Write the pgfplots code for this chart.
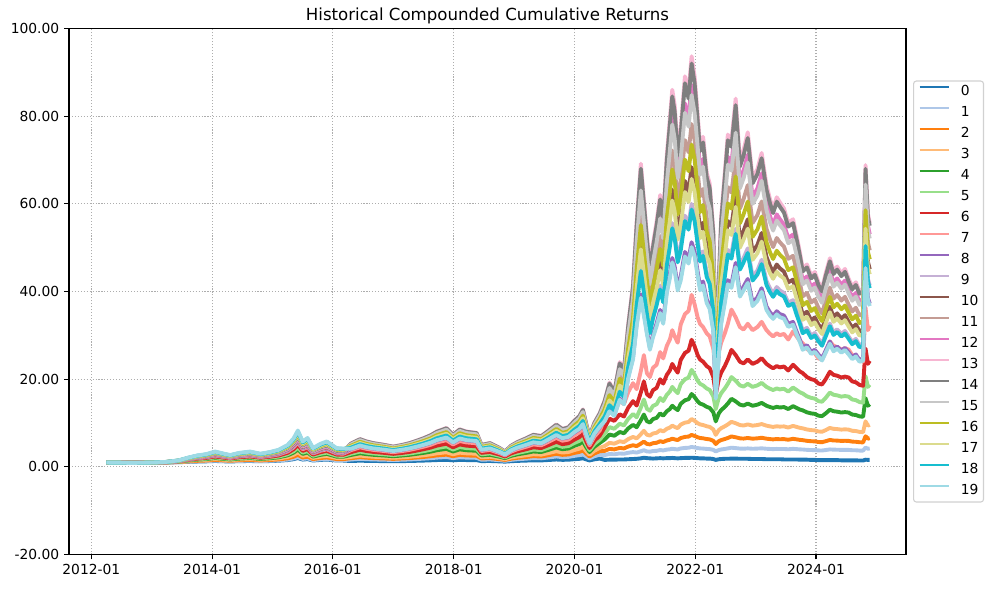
\documentclass[border=0pt]{standalone}
\usepackage{fontspec}
\setmainfont{DejaVu Sans}
\usepackage{pgfplots}
\usepackage{pgfplotstable}
\pgfplotsset{compat=1.18}
\definecolor{c0}{HTML}{1F77B4}
\definecolor{c1}{HTML}{AEC7E8}
\definecolor{c2}{HTML}{FF7F0E}
\definecolor{c3}{HTML}{FFBB78}
\definecolor{c4}{HTML}{2CA02C}
\definecolor{c5}{HTML}{98DF8A}
\definecolor{c6}{HTML}{D62728}
\definecolor{c7}{HTML}{FF9896}
\definecolor{c8}{HTML}{9467BD}
\definecolor{c9}{HTML}{C5B0D5}
\definecolor{c10}{HTML}{8C564B}
\definecolor{c11}{HTML}{C49C94}
\definecolor{c12}{HTML}{E377C2}
\definecolor{c13}{HTML}{F7B6D2}
\definecolor{c14}{HTML}{7F7F7F}
\definecolor{c15}{HTML}{C7C7C7}
\definecolor{c16}{HTML}{BCBD22}
\definecolor{c17}{HTML}{DBDB8D}
\definecolor{c18}{HTML}{17BECF}
\definecolor{c19}{HTML}{9EDAE5}
\pgfplotstableread{
t s0 s1 s2 s3 s4 s5 s6 s7 s8 s9 s10 s11 s12 s13 s14 s15 s16 s17 s18 s19
2012.25 1.00 1.00 1.00 1.00 1.00 1.00 1.00 1.00 1.00 1.00 1.00 1.00 1.00 1.00 1.00 1.00 1.00 1.00 1.00 1.00
2012.45 1.00 0.99 0.99 0.99 0.99 0.99 0.98 0.98 0.98 0.98 0.98 0.98 0.98 0.98 0.98 0.97 0.97 0.97 0.97 0.97
2012.65 0.99 0.99 0.98 0.97 0.97 0.96 0.96 0.95 0.95 0.94 0.94 0.94 0.94 0.94 0.94 0.93 0.93 0.93 0.92 0.92
2012.85 0.99 0.99 0.99 0.98 0.98 0.98 0.97 0.97 0.97 0.97 0.96 0.96 0.96 0.96 0.96 0.96 0.96 0.95 0.95 0.95
2013.05 1.00 1.00 1.00 1.01 1.01 1.01 1.01 1.01 1.01 1.01 1.01 1.01 1.02 1.02 1.02 1.02 1.02 1.02 1.02 1.02
2013.25 1.02 1.03 1.04 1.05 1.06 1.07 1.08 1.09 1.10 1.10 1.11 1.11 1.11 1.12 1.12 1.13 1.13 1.14 1.14 1.15
2013.45 1.07 1.09 1.12 1.16 1.21 1.24 1.28 1.32 1.34 1.35 1.36 1.37 1.38 1.40 1.41 1.43 1.44 1.46 1.48 1.50
2013.60 1.15 1.19 1.26 1.35 1.45 1.52 1.61 1.69 1.74 1.76 1.79 1.81 1.84 1.87 1.89 1.94 1.97 2.01 2.06 2.10
2013.75 1.22 1.27 1.38 1.51 1.66 1.75 1.88 2.01 2.07 2.10 2.15 2.18 2.22 2.26 2.30 2.36 2.41 2.47 2.54 2.60
2013.90 1.27 1.32 1.46 1.61 1.78 1.89 2.05 2.20 2.27 2.31 2.37 2.41 2.44 2.50 2.54 2.62 2.67 2.75 2.82 2.90
2014.05 1.35 1.43 1.60 1.80 2.03 2.18 2.38 2.58 2.68 2.73 2.80 2.85 2.90 2.98 3.03 3.13 3.20 3.30 3.40 3.50
2014.20 1.28 1.34 1.48 1.64 1.82 1.94 2.10 2.26 2.34 2.38 2.44 2.48 2.52 2.58 2.62 2.70 2.76 2.84 2.92 3.00
2014.30 1.24 1.29 1.41 1.54 1.70 1.80 1.94 2.07 2.14 2.17 2.22 2.26 2.29 2.34 2.38 2.45 2.50 2.56 2.63 2.70
2014.45 1.31 1.37 1.53 1.70 1.90 2.03 2.21 2.39 2.47 2.52 2.58 2.63 2.67 2.74 2.78 2.87 2.94 3.02 3.11 3.20
2014.63 1.35 1.43 1.60 1.80 2.03 2.18 2.38 2.58 2.68 2.73 2.80 2.85 2.90 2.98 3.03 3.13 3.20 3.30 3.40 3.50
2014.80 1.28 1.34 1.48 1.64 1.82 1.94 2.10 2.26 2.34 2.38 2.44 2.48 2.52 2.58 2.62 2.70 2.76 2.84 2.92 3.00
2014.96 1.34 1.41 1.58 1.77 1.98 2.13 2.32 2.51 2.61 2.66 2.73 2.78 2.82 2.90 2.94 3.04 3.11 3.21 3.30 3.40
2015.10 1.41 1.49 1.70 1.93 2.19 2.36 2.60 2.83 2.94 3.00 3.09 3.15 3.20 3.29 3.35 3.47 3.55 3.67 3.78 3.90
2015.25 1.56 1.68 1.96 2.28 2.64 2.88 3.20 3.52 3.68 3.76 3.88 3.96 4.04 4.16 4.24 4.40 4.52 4.68 4.84 5.00
2015.35 1.77 1.94 2.32 2.76 3.26 3.59 4.03 4.47 4.69 4.80 4.96 5.07 5.18 5.35 5.46 5.68 5.84 6.06 6.28 6.50
2015.42 2.02 2.24 2.75 3.34 3.99 4.43 5.02 5.60 5.89 6.04 6.26 6.40 6.55 6.77 6.91 7.21 7.42 7.72 8.01 8.30
2015.50 1.67 1.82 2.15 2.54 2.97 3.26 3.64 4.02 4.22 4.31 4.46 4.55 4.65 4.79 4.89 5.08 5.22 5.42 5.61 5.80
2015.58 1.78 1.95 2.34 2.79 3.30 3.63 4.08 4.53 4.75 4.86 5.03 5.14 5.26 5.42 5.54 5.76 5.93 6.15 6.38 6.60
2015.67 1.46 1.56 1.79 2.06 2.35 2.55 2.82 3.08 3.21 3.28 3.38 3.44 3.51 3.61 3.67 3.81 3.90 4.04 4.17 4.30
2015.80 1.60 1.73 2.03 2.38 2.76 3.02 3.37 3.71 3.88 3.97 4.10 4.18 4.27 4.40 4.48 4.66 4.78 4.96 5.13 5.30
2015.90 1.67 1.82 2.15 2.54 2.97 3.26 3.64 4.02 4.22 4.31 4.46 4.55 4.65 4.79 4.89 5.08 5.22 5.42 5.61 5.80
2016.06 1.46 1.56 1.79 2.06 2.35 2.55 2.82 3.08 3.21 3.28 3.38 3.44 3.51 3.61 3.67 3.81 3.90 4.04 4.17 4.30
2016.17 1.45 1.54 1.77 2.02 2.31 2.50 2.76 3.02 3.14 3.21 3.30 3.37 3.43 3.53 3.59 3.72 3.82 3.94 4.07 4.20
2016.30 1.34 1.69 1.99 2.29 2.72 3.02 3.37 3.82 4.10 4.44 4.70 4.96 5.19 5.34 5.30 5.13 4.83 4.61 4.40 4.14
2016.45 1.42 1.85 2.22 2.59 3.12 3.49 3.92 4.47 4.82 5.24 5.56 5.88 6.17 6.35 6.30 6.09 5.72 5.45 5.19 4.87
2016.55 1.38 1.77 2.10 2.44 2.92 3.26 3.64 4.14 4.46 4.84 5.13 5.42 5.68 5.85 5.80 5.61 5.27 5.03 4.79 4.50
2016.67 1.35 1.70 2.01 2.32 2.76 3.07 3.42 3.88 4.17 4.52 4.78 5.05 5.29 5.44 5.40 5.22 4.92 4.70 4.48 4.21
2016.85 1.32 1.64 1.92 2.20 2.60 2.88 3.20 3.62 3.88 4.20 4.44 4.68 4.90 5.04 5.00 4.84 4.56 4.36 4.16 3.92
2017.00 1.29 1.58 1.83 2.08 2.44 2.69 2.98 3.36 3.59 3.88 4.10 4.31 4.51 4.64 4.60 4.46 4.20 4.02 3.84 3.63
2017.15 1.32 1.64 1.92 2.20 2.60 2.88 3.20 3.62 3.88 4.20 4.44 4.68 4.90 5.04 5.00 4.84 4.56 4.36 4.16 3.92
2017.27 1.35 1.70 2.01 2.32 2.76 3.07 3.42 3.88 4.17 4.52 4.78 5.05 5.29 5.44 5.40 5.22 4.92 4.70 4.48 4.21
2017.40 1.40 1.80 2.15 2.50 3.00 3.35 3.75 4.28 4.60 5.00 5.30 5.60 5.88 6.05 6.00 5.80 5.45 5.20 4.95 4.65
2017.50 1.44 1.88 2.27 2.65 3.20 3.59 4.03 4.60 4.96 5.40 5.73 6.06 6.36 6.56 6.50 6.28 5.90 5.62 5.35 5.02
2017.62 1.50 1.99 2.43 2.86 3.48 3.91 4.41 5.06 5.46 5.96 6.33 6.70 7.05 7.26 7.20 6.95 6.52 6.21 5.90 5.53
2017.72 1.56 2.12 2.61 3.10 3.80 4.29 4.85 5.59 6.04 6.60 7.02 7.44 7.83 8.07 8.00 7.72 7.23 6.88 6.53 6.11
2017.88 1.62 2.25 2.79 3.34 4.12 4.67 5.29 6.11 6.62 7.24 7.71 8.18 8.61 8.88 8.80 8.49 7.94 7.55 7.16 6.69
2017.99 1.50 2.01 2.45 2.89 3.52 3.96 4.47 5.13 5.54 6.04 6.42 6.80 7.14 7.36 7.30 7.05 6.61 6.29 5.98 5.60
2018.10 1.60 2.20 2.73 3.25 4.00 4.53 5.13 5.91 6.40 7.00 7.45 7.90 8.31 8.58 8.50 8.20 7.68 7.30 6.93 6.48
2018.21 1.56 2.12 2.61 3.10 3.80 4.29 4.85 5.59 6.04 6.60 7.02 7.44 7.83 8.07 8.00 7.72 7.23 6.88 6.53 6.11
2018.38 1.54 2.07 2.54 3.01 3.68 4.15 4.69 5.39 5.82 6.36 6.76 7.16 7.53 7.77 7.70 7.43 6.96 6.63 6.29 5.89
2018.46 1.32 1.64 1.92 2.20 2.60 2.88 3.20 3.62 3.88 4.20 4.44 4.68 4.90 5.04 5.00 4.84 4.56 4.36 4.16 3.92
2018.60 1.35 1.70 2.01 2.32 2.76 3.07 3.42 3.88 4.17 4.52 4.78 5.05 5.29 5.44 5.40 5.22 4.92 4.70 4.48 4.21
2018.76 1.26 1.53 1.76 1.99 2.32 2.55 2.82 3.16 3.38 3.64 3.84 4.04 4.22 4.33 4.30 4.17 3.94 3.77 3.61 3.41
2018.85 1.20 1.40 1.58 1.75 2.00 2.18 2.38 2.64 2.80 3.00 3.15 3.30 3.44 3.53 3.50 3.40 3.23 3.10 2.98 2.83
2018.95 1.30 1.61 1.87 2.14 2.52 2.79 3.09 3.49 3.74 4.04 4.27 4.50 4.71 4.84 4.80 4.65 4.38 4.19 4.00 3.77
2019.05 1.37 1.74 2.06 2.38 2.84 3.16 3.53 4.01 4.31 4.68 4.96 5.23 5.49 5.65 5.60 5.42 5.09 4.86 4.63 4.36
2019.20 1.44 1.88 2.27 2.65 3.20 3.59 4.03 4.60 4.96 5.40 5.73 6.06 6.36 6.56 6.50 6.28 5.90 5.62 5.35 5.02
2019.32 1.50 2.01 2.45 2.89 3.52 3.96 4.47 5.13 5.54 6.04 6.42 6.80 7.14 7.36 7.30 7.05 6.61 6.29 5.98 5.60
2019.45 1.48 1.96 2.38 2.80 3.40 3.82 4.30 4.93 5.32 5.80 6.16 6.52 6.85 7.06 7.00 6.76 6.34 6.04 5.74 5.38
2019.55 1.56 2.12 2.61 3.10 3.80 4.29 4.85 5.59 6.04 6.60 7.02 7.44 7.83 8.07 8.00 7.72 7.23 6.88 6.53 6.11
2019.70 1.69 2.38 2.98 3.58 4.44 5.04 5.73 6.63 7.19 7.88 8.40 8.91 9.39 9.69 9.60 9.26 8.65 8.22 7.79 7.28
2019.80 1.61 2.22 2.75 3.28 4.04 4.57 5.18 5.98 6.47 7.08 7.54 7.99 8.41 8.68 8.60 8.30 7.76 7.38 7.00 6.55
2019.90 1.64 2.28 2.84 3.40 4.20 4.76 5.40 6.24 6.76 7.40 7.88 8.36 8.80 9.08 9.00 8.68 8.12 7.72 7.32 6.84
2020.00 1.76 2.52 3.19 3.85 4.80 5.47 6.23 7.22 7.84 8.60 9.17 9.74 10.26 10.60 10.50 10.12 9.46 8.98 8.51 7.94
2020.08 1.84 2.68 3.42 4.15 5.20 5.94 6.78 7.88 8.56 9.40 10.03 10.66 11.24 11.61 11.50 11.08 10.35 9.82 9.30 8.67
2020.14 1.96 2.92 3.76 4.60 5.80 6.64 7.60 8.86 9.64 10.60 11.32 12.04 12.70 13.12 13.00 12.52 11.68 11.08 10.48 9.76
2020.20 1.68 2.36 2.96 3.55 4.40 5.00 5.68 6.57 7.12 7.80 8.31 8.82 9.29 9.59 9.50 9.16 8.57 8.14 7.72 7.21
2020.25 1.48 1.96 2.38 2.80 3.40 3.82 4.30 4.93 5.32 5.80 6.16 6.52 6.85 7.06 7.00 6.76 6.34 6.04 5.74 5.38
2020.33 1.72 2.44 3.07 3.70 4.60 5.23 5.95 6.90 7.48 8.20 8.74 9.28 9.78 10.09 10.00 9.64 9.01 8.56 8.11 7.57
2020.42 1.90 2.79 3.58 4.36 5.48 6.26 7.16 8.34 9.06 9.96 10.63 11.30 11.92 12.31 12.20 11.75 10.97 10.41 9.85 9.18
2020.50 1.60 2.69 3.66 4.76 6.26 7.55 9.00 10.97 10.56 11.61 12.56 13.61 14.52 15.15 15.00 14.30 13.11 12.26 11.46 10.43
2020.58 1.65 2.94 4.11 5.48 7.39 9.08 11.00 13.66 12.86 14.29 15.58 17.06 18.34 19.23 19.00 17.99 16.36 15.18 14.08 12.67
2020.66 1.65 2.88 4.00 5.30 7.11 8.70 10.50 12.99 11.82 13.02 14.13 15.37 16.44 17.19 17.00 16.17 14.77 13.79 12.85 11.65
2020.75 1.70 3.06 4.33 5.84 7.96 9.84 12.00 15.00 15.58 17.42 19.12 21.03 22.70 23.91 23.60 22.28 20.11 18.57 17.13 15.32
2020.82 1.70 3.00 4.22 5.66 7.68 9.46 11.50 14.33 14.52 16.24 17.82 19.60 21.16 22.29 22.00 20.77 18.74 17.31 15.97 14.28
2020.89 1.75 3.22 4.64 6.34 8.78 10.96 13.50 17.05 20.58 23.17 25.57 28.32 30.72 32.45 32.00 30.11 27.01 24.80 22.78 20.22
2020.97 1.80 3.38 4.94 6.84 9.59 12.07 15.00 19.10 25.01 28.58 31.90 35.75 39.16 41.62 41.00 38.29 33.91 30.83 28.04 24.56
2021.03 1.85 3.27 4.74 6.51 9.05 11.33 14.00 17.73 32.73 37.62 42.24 47.63 52.42 55.88 55.00 51.21 45.05 40.76 36.85 32.07
2021.10 1.95 3.57 5.31 7.47 10.64 13.54 17.00 21.90 39.37 45.63 51.54 58.48 64.67 69.16 68.00 63.04 55.15 49.64 44.68 38.56
2021.15 2.10 3.81 5.77 8.24 11.94 15.38 19.50 25.50 35.22 40.68 45.78 51.78 57.12 60.99 60.00 55.74 48.90 44.13 39.81 34.50
2021.20 2.00 3.53 5.24 7.34 10.43 13.25 16.60 21.34 30.94 35.57 39.94 45.03 49.56 52.83 52.00 48.41 42.59 38.53 34.84 30.32
2021.25 1.95 3.48 5.13 7.15 10.12 12.81 16.00 20.50 27.21 31.09 34.70 38.89 42.59 45.27 44.60 41.66 36.88 33.54 30.51 26.72
2021.30 1.90 3.62 5.41 7.62 10.91 13.91 17.50 22.60 30.13 34.53 38.65 43.45 47.70 50.78 50.00 46.63 41.15 37.33 33.85 29.55
2021.36 1.95 3.67 5.50 7.78 11.17 14.28 18.00 23.30 32.73 37.62 42.24 47.63 52.42 55.88 55.00 51.21 45.05 40.76 36.85 32.07
2021.42 2.00 3.85 5.86 8.39 12.20 15.74 20.00 26.20 35.81 41.36 46.54 52.64 58.07 62.01 61.00 56.67 49.72 44.87 40.47 35.08
2021.47 1.95 3.76 5.68 8.09 11.69 15.01 19.00 24.75 33.32 38.30 43.01 48.50 53.37 56.90 56.00 52.14 45.86 41.50 37.52 32.65
2021.53 2.00 3.94 6.03 8.69 12.70 16.46 21.00 27.63 40.53 46.97 53.06 60.20 66.57 71.19 70.00 64.89 56.77 51.10 45.99 39.69
2021.58 2.00 4.02 6.20 8.98 13.20 17.18 22.00 29.05 43.99 51.32 58.34 66.61 73.94 79.40 78.00 72.07 62.63 56.08 50.23 43.06
2021.62 2.05 4.14 6.44 9.41 13.95 18.25 23.50 31.19 47.66 55.60 63.21 72.16 80.11 86.02 84.50 78.08 67.85 60.76 54.42 46.64
2021.66 2.00 4.06 6.28 9.12 13.45 17.54 22.50 29.76 45.68 53.30 60.59 69.17 76.79 82.46 81.00 74.84 65.04 58.24 52.16 44.71
2021.71 1.95 3.98 6.12 8.83 12.95 16.82 21.50 28.34 41.11 47.64 53.82 61.06 67.52 72.21 71.00 65.82 57.58 51.83 46.65 40.26
2021.76 2.00 4.21 6.58 9.66 14.40 18.88 24.40 32.49 43.43 50.50 57.23 65.13 72.16 77.33 76.00 70.34 61.33 55.06 49.44 42.52
2021.83 2.05 4.33 6.84 10.10 15.20 20.00 26.00 34.85 49.04 57.31 65.23 74.55 82.91 89.08 87.50 80.76 70.09 62.69 56.09 47.99
2021.89 2.05 4.37 6.92 10.24 15.44 20.35 26.50 35.59 47.38 55.27 62.83 71.74 79.63 85.51 84.00 77.62 67.45 60.40 54.10 46.37
2021.94 2.10 4.55 7.29 10.92 16.63 22.13 29.00 39.25 51.24 59.98 68.36 78.20 87.12 93.66 92.00 84.82 73.51 65.69 58.70 50.14
2021.99 2.05 4.44 7.07 10.51 15.91 21.05 27.50 37.06 49.04 57.31 65.23 74.55 82.91 89.08 87.50 80.76 70.09 62.69 56.09 47.99
2022.04 2.00 4.29 6.76 9.96 14.95 19.65 25.50 34.11 44.56 51.98 59.09 67.47 74.89 80.42 79.00 73.00 63.44 56.80 50.88 43.61
2022.08 1.95 4.22 6.60 9.69 14.45 18.95 24.50 32.64 41.15 47.84 54.22 61.70 68.36 73.26 72.00 66.64 58.10 52.16 46.84 40.28
2022.13 1.95 4.18 6.52 9.55 14.20 18.60 24.00 31.90 42.29 49.17 55.72 63.42 70.26 75.30 74.00 68.49 59.72 53.61 48.14 41.40
2022.19 1.90 4.10 6.36 9.27 13.70 17.89 23.00 30.48 38.21 44.29 50.03 56.76 62.77 67.12 66.00 61.18 53.53 48.18 43.36 37.42
2022.24 1.90 4.06 6.28 9.12 13.45 17.54 22.50 29.76 36.77 42.61 48.13 54.61 60.39 64.58 63.50 58.86 51.50 46.36 41.72 36.00
2022.30 1.80 3.89 5.95 8.54 12.45 16.10 20.50 26.91 31.54 36.25 40.70 45.90 50.51 53.85 53.00 49.34 43.41 39.27 35.51 30.90
2022.34 1.60 3.53 5.22 7.31 10.38 13.18 16.50 21.20 15.84 17.71 19.44 21.38 23.09 24.31 24.00 22.66 20.45 18.89 17.42 15.58
2022.39 1.75 3.85 5.86 8.39 12.20 15.74 20.00 26.20 25.62 29.27 32.68 36.62 40.11 42.63 42.00 39.23 34.73 31.58 28.73 25.16
2022.43 1.80 3.98 6.12 8.83 12.95 16.82 21.50 28.34 33.32 38.30 43.01 48.50 53.37 56.90 56.00 52.14 45.86 41.50 37.52 32.65
2022.49 1.85 4.10 6.36 9.27 13.70 17.89 23.00 30.48 38.21 44.29 50.03 56.76 62.77 67.12 66.00 61.18 53.53 48.18 43.36 37.42
2022.54 1.85 4.22 6.60 9.69 14.45 18.95 24.50 32.64 42.58 49.50 56.10 63.85 70.74 75.80 74.50 68.95 60.12 53.98 48.46 41.68
2022.60 1.90 4.38 6.95 10.29 15.53 20.49 26.70 35.88 41.72 48.51 54.97 62.56 69.31 74.28 73.00 67.56 58.91 52.89 47.49 40.84
2022.67 1.90 4.29 6.76 9.96 14.95 19.65 25.50 34.11 46.53 54.29 61.71 70.46 78.21 83.99 82.50 76.23 66.25 59.32 53.13 45.54
2022.74 1.85 4.18 6.52 9.55 14.20 18.60 24.00 31.90 39.66 45.96 51.92 58.91 65.14 69.66 68.50 63.50 55.55 50.00 45.00 38.84
2022.80 1.85 4.15 6.46 9.44 14.00 18.32 23.60 31.33 41.11 47.64 53.82 61.06 67.52 72.21 71.00 65.82 57.58 51.83 46.65 40.26
2022.87 1.85 4.22 6.60 9.69 14.45 18.95 24.50 32.64 42.86 49.84 56.48 64.28 71.21 76.31 75.00 69.41 60.53 54.34 48.79 41.96
2022.95 1.80 4.14 6.44 9.41 13.95 18.25 23.50 31.19 37.46 43.41 49.04 55.64 61.53 65.80 64.70 59.98 52.47 47.23 42.51 36.68
2023.03 1.80 4.18 6.52 9.55 14.20 18.60 24.00 31.90 38.68 44.82 50.63 57.45 63.53 67.94 66.80 61.92 54.17 48.76 43.89 37.88
2023.10 1.80 4.24 6.65 9.77 14.60 19.16 24.80 33.08 40.76 47.24 53.36 60.54 66.95 71.60 70.40 65.26 57.09 51.39 46.25 39.92
2023.18 1.75 4.14 6.44 9.41 13.95 18.25 23.50 31.19 36.59 42.41 47.91 54.35 60.10 64.27 63.20 58.59 51.26 46.14 41.52 35.83
2023.24 1.75 4.09 6.34 9.24 13.65 17.82 22.90 30.33 35.22 40.68 45.78 51.78 57.12 60.99 60.00 55.74 48.90 44.13 39.81 34.50
2023.29 1.75 4.06 6.28 9.12 13.45 17.54 22.50 29.76 34.45 39.60 44.47 50.14 55.18 58.83 57.90 53.90 47.42 42.90 38.79 33.76
2023.35 1.75 4.10 6.36 9.27 13.70 17.89 23.00 30.48 35.51 41.02 46.16 52.21 57.60 61.50 60.50 56.20 49.31 44.50 40.14 34.79
2023.40 1.75 4.08 6.31 9.19 13.55 17.68 22.70 30.05 34.87 40.27 45.32 51.26 56.55 60.38 59.40 55.18 48.41 43.69 39.41 34.16
2023.47 1.70 4.09 6.34 9.24 13.65 17.82 22.90 30.33 34.51 39.67 44.54 50.23 55.27 58.93 58.00 54.00 47.50 42.98 38.86 33.81
2023.54 1.70 4.02 6.20 8.98 13.20 17.18 22.00 29.05 32.61 37.48 42.09 47.46 52.22 55.68 54.80 51.02 44.88 40.61 36.72 31.95
2023.62 1.70 4.12 6.41 9.35 13.85 18.10 23.30 30.90 33.08 38.03 42.70 48.15 52.99 56.49 55.60 51.76 45.54 41.20 37.25 32.41
2023.68 1.70 4.06 6.28 9.12 13.45 17.54 22.50 29.76 30.82 35.43 39.78 44.86 49.37 52.63 51.80 48.23 42.42 38.38 34.71 30.20
2023.73 1.65 4.00 6.17 8.92 13.10 17.04 21.80 28.77 29.16 33.42 37.41 42.06 46.17 49.15 48.40 45.13 39.83 36.13 32.77 28.60
2023.78 1.65 3.97 6.10 8.80 12.90 16.75 21.40 28.20 27.21 31.09 34.70 38.89 42.59 45.27 44.60 41.66 36.88 33.54 30.51 26.72
2023.85 1.65 3.89 5.95 8.54 12.45 16.10 20.50 26.91 27.76 31.71 35.40 39.68 43.45 46.18 45.50 42.50 37.63 34.22 31.12 27.25
2023.92 1.60 3.85 5.86 8.39 12.20 15.74 20.00 26.20 26.23 29.97 33.45 37.50 41.07 43.65 43.00 40.16 35.56 32.34 29.41 25.76
2023.98 1.60 3.83 5.82 8.33 12.10 15.59 19.80 25.91 26.72 30.53 34.08 38.19 41.83 44.46 43.80 40.91 36.22 32.94 29.96 26.24
2024.04 1.55 3.76 5.68 8.09 11.69 15.01 19.00 24.75 25.65 29.20 32.49 36.31 39.69 42.12 41.50 38.82 34.49 31.44 28.68 25.19
2024.10 1.55 3.74 5.64 8.02 11.58 14.86 18.80 24.46 24.72 28.14 31.32 35.00 38.26 40.60 40.00 37.42 33.24 30.30 27.64 24.28
2024.16 1.55 3.85 5.86 8.39 12.20 15.74 20.00 26.20 26.54 30.32 33.84 37.93 41.54 44.15 43.50 40.63 35.97 32.71 29.75 26.06
2024.23 1.55 3.99 6.15 8.89 13.05 16.96 21.70 28.62 28.61 32.69 36.49 40.90 44.79 47.60 46.90 43.80 38.79 35.27 32.08 28.09
2024.29 1.55 3.94 6.03 8.69 12.70 16.46 21.00 27.63 26.84 30.67 34.23 38.37 42.02 44.66 44.00 41.10 36.39 33.09 30.10 26.36
2024.35 1.55 3.92 6.00 8.63 12.60 16.32 20.80 27.34 27.45 31.37 35.01 39.24 42.98 45.68 45.00 42.03 37.22 33.84 30.78 26.96
2024.42 1.50 3.88 5.93 8.51 12.40 16.03 20.40 26.77 26.54 30.32 33.84 37.93 41.54 44.15 43.50 40.63 35.97 32.71 29.75 26.06
2024.48 1.50 3.90 5.96 8.57 12.50 16.17 20.60 27.06 27.15 31.02 34.62 38.80 42.50 45.17 44.50 41.56 36.80 33.46 30.44 26.66
2024.54 1.50 3.88 5.93 8.51 12.40 16.03 20.40 26.77 26.14 29.76 33.12 37.01 40.46 42.93 42.30 39.57 35.15 32.04 29.23 25.68
2024.60 1.50 3.81 5.77 8.24 11.94 15.38 19.50 25.50 25.03 28.49 31.71 35.44 38.74 41.11 40.50 37.89 33.66 30.68 27.99 24.58
2024.66 1.50 3.79 5.73 8.18 11.84 15.23 19.30 25.19 25.65 29.20 32.49 36.31 39.69 42.12 41.50 38.82 34.49 31.44 28.68 25.19
2024.72 1.45 3.73 5.63 7.99 11.53 14.79 18.70 24.32 24.41 27.79 30.93 34.56 37.78 40.09 39.50 36.95 32.82 29.92 27.29 23.98
2024.78 1.45 3.72 5.59 7.93 11.43 14.65 18.50 24.03 24.72 28.14 31.32 35.00 38.26 40.60 40.00 37.42 33.24 30.30 27.64 24.28
2024.82 1.65 4.41 6.99 10.38 15.68 20.70 27.00 36.33 46.04 51.14 55.76 61.06 65.62 68.82 68.00 64.40 58.55 54.33 50.39 45.36
2024.86 1.60 4.14 6.44 9.41 13.95 18.25 23.50 31.19 38.59 42.86 46.74 51.19 55.01 57.68 57.00 53.98 49.08 45.54 42.24 38.02
2024.89 1.60 4.20 6.55 9.60 14.30 18.74 24.20 32.20 37.24 41.36 45.10 49.39 53.08 55.66 55.00 52.09 47.36 43.95 40.76 36.69
}\data
\begin{document}
\begin{tikzpicture}
\useasboundingbox (-49.68bp,-24.77bp) rectangle (666.7bp,399.3bp);
\begin{axis}[
  at={(0,0)}, anchor=south west, scale only axis,
  width=602.6bp, height=378.8bp,
  xmin=2011.63, xmax=2025.49, ymin=-20, ymax=100,
  xtick={2012,2014,2016,2018,2020,2022,2024},
  xticklabels={2012-01,2014-01,2016-01,2018-01,2020-01,2022-01,2024-01},
  ytick={-20,0,20,40,60,80,100},
  yticklabels={-20.00,0.00,20.00,40.00,60.00,80.00,100.00},
  xtick pos=bottom, ytick pos=left,
  tick align=outside, major tick length=3.5bp,
  tick style={line width=0.8bp, black},
  axis line style={line width=0.8bp},
  grid=major,
  major grid style={color=black!32, line width=0.8bp, dash pattern=on 0.8bp off 1.32bp},
  ticklabel style={font=\fontsize{10}{12}\selectfont},
  title={Historical Compounded Cumulative Returns},
  title style={font=\fontsize{12}{14}\selectfont, at={(0.5,1)}, anchor=base, inner sep=0pt},
  no markers,
  every axis plot/.append style={line width=2.8bp, line join=round},
  legend cell align=left,
  legend image code/.code={\draw[#1, line width=1.5bp] (0bp,3.6bp) -- (21bp,3.6bp);},
  legend style={at={(1.0084,0.5)}, anchor=west, draw=black!18, line width=0.8bp,
    rounded corners=2bp, fill=white, font=\fontsize{10}{12}\selectfont,
    inner xsep=3.6bp, inner ysep=2.9bp, row sep=5.12bp, column sep=8bp,
    nodes={inner sep=0pt, text height=7.5bp, text depth=2.5bp}},
]
\addplot[c0] table[x=t,y=s0] {\data}; \addlegendentry{0}
\addplot[c1] table[x=t,y=s1] {\data}; \addlegendentry{1}
\addplot[c2] table[x=t,y=s2] {\data}; \addlegendentry{2}
\addplot[c3] table[x=t,y=s3] {\data}; \addlegendentry{3}
\addplot[c4] table[x=t,y=s4] {\data}; \addlegendentry{4}
\addplot[c5] table[x=t,y=s5] {\data}; \addlegendentry{5}
\addplot[c6] table[x=t,y=s6] {\data}; \addlegendentry{6}
\addplot[c7] table[x=t,y=s7] {\data}; \addlegendentry{7}
\addplot[c8] table[x=t,y=s8] {\data}; \addlegendentry{8}
\addplot[c9] table[x=t,y=s9] {\data}; \addlegendentry{9}
\addplot[c10] table[x=t,y=s10] {\data}; \addlegendentry{10}
\addplot[c11] table[x=t,y=s11] {\data}; \addlegendentry{11}
\addplot[c12] table[x=t,y=s12] {\data}; \addlegendentry{12}
\addplot[c13] table[x=t,y=s13] {\data}; \addlegendentry{13}
\addplot[c14] table[x=t,y=s14] {\data}; \addlegendentry{14}
\addplot[c15] table[x=t,y=s15] {\data}; \addlegendentry{15}
\addplot[c16] table[x=t,y=s16] {\data}; \addlegendentry{16}
\addplot[c17] table[x=t,y=s17] {\data}; \addlegendentry{17}
\addplot[c18] table[x=t,y=s18] {\data}; \addlegendentry{18}
\addplot[c19] table[x=t,y=s19] {\data}; \addlegendentry{19}
\end{axis}
\end{tikzpicture}
\end{document}
